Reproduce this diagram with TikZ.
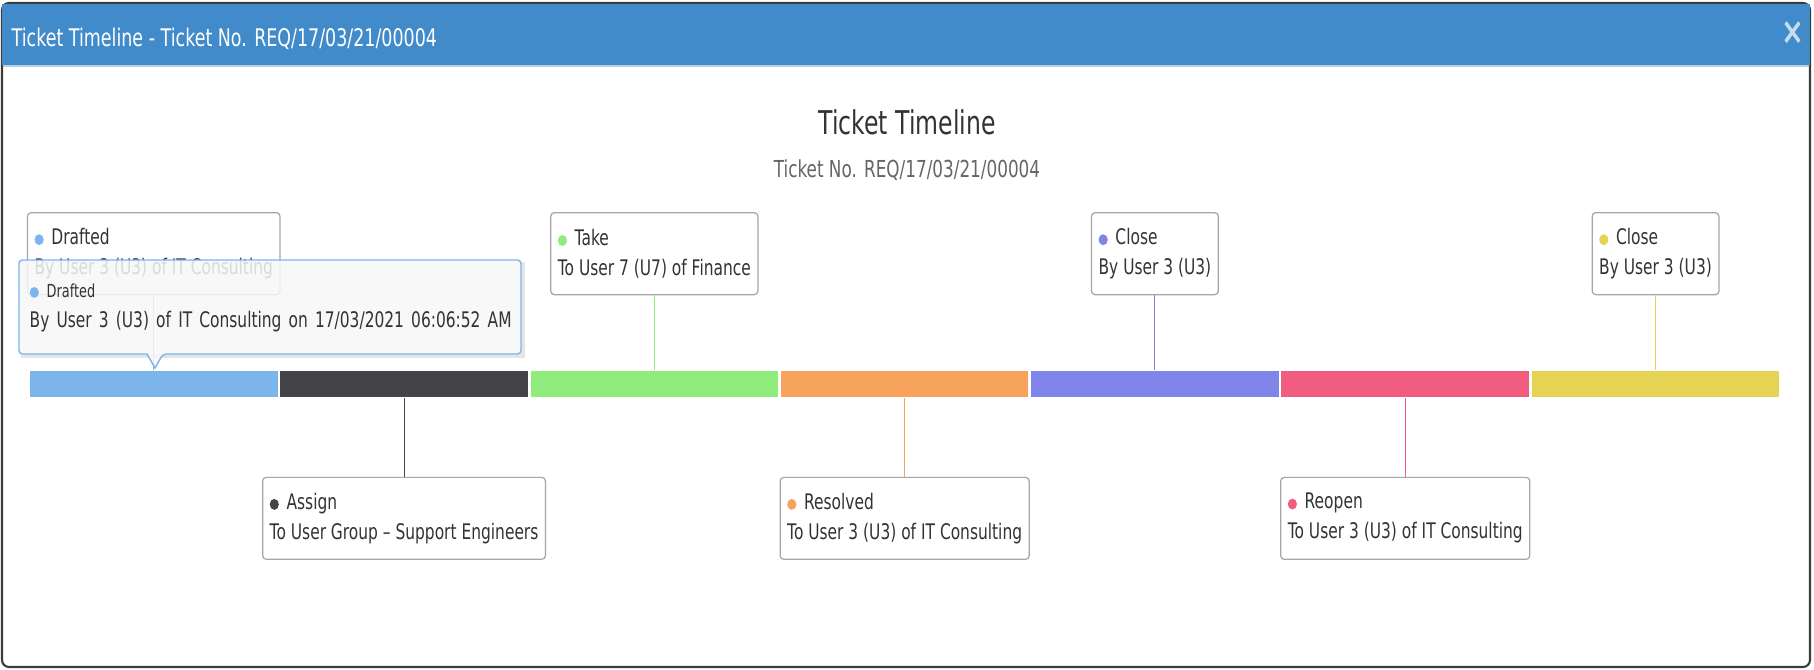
\documentclass[tikz,border=0pt]{standalone}
\usepackage{fontspec}
\setmainfont{DejaVu Sans}[FakeStretch=0.72]
\usetikzlibrary{positioning}

\definecolor{barblue}{HTML}{428BCA}
\definecolor{c1}{HTML}{7CB5EC}
\definecolor{c2}{HTML}{434348}
\definecolor{c3}{HTML}{90ED7D}
\definecolor{c4}{HTML}{F7A35C}
\definecolor{c5}{HTML}{8085E9}
\definecolor{c6}{HTML}{F15C80}
\definecolor{c7}{HTML}{E4D354}
\definecolor{textgray}{HTML}{333333}
\definecolor{subgray}{HTML}{666666}
\definecolor{cardgray}{HTML}{A6A6A6}
\definecolor{tipbg}{HTML}{F7F7F7}
\definecolor{framegray}{HTML}{3C3C3C}

\newcommand{\cardsize}{\fontsize{6.1pt}{8.5pt}\selectfont}
\newcommand{\tiphead}{\fontsize{5.1pt}{8.5pt}\selectfont}
\newcommand{\bul}[1]{\tikz[baseline=0pt]\fill[#1] (0,1.4pt) ellipse (1.3pt and 1.55pt);\hspace{2.2pt}}

\begin{document}
\begin{tikzpicture}[x=0.01cm, y=-0.01cm,
  seg/.style={minimum width=2.475cm, minimum height=0.26cm, inner sep=0pt},
  card/.style={draw=cardgray, fill=white, line width=0.35pt, rounded corners=1pt, align=left, inner xsep=2pt, minimum height=23.3pt, text=textgray, font=\cardsize},
  link/.style={line width=0.3pt}]

\useasboundingbox (0,0) rectangle (1814,669);
\fill[white] (0,0) rectangle (1814,669);

% window
\draw[framegray, line width=0.6pt, fill=white, rounded corners=2pt] (2,3) rectangle (1810,667);
\fill[barblue] (2.5,4) rectangle (1809.5,65);
\draw[barblue!40, line width=0.5pt] (3,66) -- (1809,66);
\node[anchor=base west, inner sep=0pt, text=white, font=\fontsize{6.9pt}{8pt}\selectfont] (wintitle) at (11,46) {Ticket Timeline - Ticket No. REQ/17/03/21/00004};
\node[text=white!70!barblue, font=\fontsize{10.8pt}{12pt}\selectfont\bfseries] (closex) at (1793,33) {×};

\node[anchor=base, text=textgray, font=\fontsize{9.3pt}{11pt}\selectfont] (heading) at (907,134) {Ticket Timeline};
\node[anchor=base, text=subgray, font=\fontsize{6.65pt}{8pt}\selectfont] (subheading) at (907,177) {Ticket No. REQ/17/03/21/00004};

% timeline bar
\node[seg, fill=c1] (s1) at (153.75,384) {};
\node[seg, fill=c2] (s2) at (404.05,384) {};
\node[seg, fill=c3] (s3) at (654.35,384) {};
\node[seg, fill=c4] (s4) at (904.65,384) {};
\node[seg, fill=c5] (s5) at (1154.95,384) {};
\node[seg, fill=c6] (s6) at (1405.25,384) {};
\node[seg, fill=c7] (s7) at (1655.55,384) {};

% labels
\node[card, above=0.75cm of s1] (drafted) {\bul{c1}Drafted\\By User 3 (U3) of IT Consulting};
\node[card, below=0.79cm of s2] (assign) {\bul{c2}Assign\\To User Group – Support Engineers};
\node[card, above=0.75cm of s3] (take) {\bul{c3}Take\\To User 7 (U7) of Finance};
\node[card, below=0.79cm of s4] (resolved) {\bul{c4}Resolved\\To User 3 (U3) of IT Consulting};
\node[card, above=0.75cm of s5] (closeA) {\bul{c5}Close\\By User 3 (U3)};
\node[card, below=0.79cm of s6] (reopen) {\bul{c6}Reopen\\To User 3 (U3) of IT Consulting};
\node[card, above=0.75cm of s7] (closeB) {\bul{c7}Close\\By User 3 (U3)};

\draw[link, c1] (drafted) -- (s1);
\draw[link, c2] (assign) -- (s2);
\draw[link, c3] (take) -- (s3);
\draw[link, c4] (resolved) -- (s4);
\draw[link, c5] (closeA) -- (s5);
\draw[link, c6] (reopen) -- (s6);
\draw[link, c7] (closeB) -- (s7);

% tooltip
\draw[black, opacity=0.1, line width=1.2pt] (21,356) -- (523,356) -- (523,262);
\draw[c1, line width=0.4pt, fill=tipbg, fill opacity=0.85, rounded corners=1pt] (19,260) -- (521,260) -- (521,354) -- (163,354) [sharp corners] -- (155,368) -- (147,354) [rounded corners=1pt] -- (19,354) -- cycle;
\node[anchor=north west, text width=4.82cm, inner xsep=0.1cm, inner ysep=0pt, minimum height=0.94cm, align=left, text=textgray, font=\cardsize] (tip) at (19,260) {{\tiphead\bul{c1}Drafted}\\By User 3 (U3) of IT Consulting on 17/03/2021 06:06:52 AM};

\end{tikzpicture}
\end{document}
